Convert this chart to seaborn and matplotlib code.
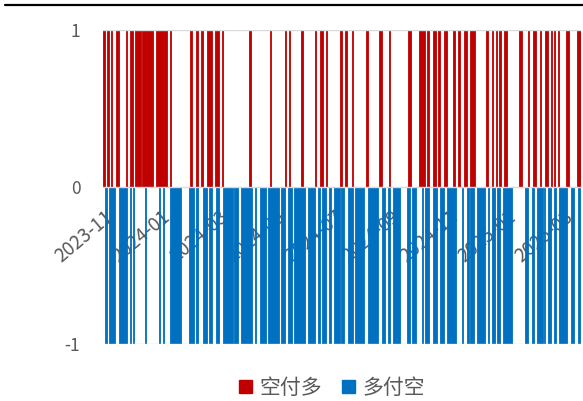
import numpy as np
import pandas as pd
import matplotlib
matplotlib.use("Agg")
import matplotlib.pyplot as plt
import seaborn as sns
from matplotlib.lines import Line2D
from matplotlib.patches import Patch

# trading days on the x axis (category index), labels every 42 days
n_days = 349
tick_pos = [0, 42, 84, 126, 168, 210, 252, 294, 336]
tick_labels = ['2023-11', '2024-01', '2024-03', '2024-05', '2024-07',
               '2024-09', '2024-11', '2025-01', '2025-03']

series_names = ['空付多', '多付空']
colors = ['#C00000', '#0070C0']

# days where 空付多 = 1
red_days = [0, 1, 3, 4, 6, 10, 11, 17, 20, 21, 24, 25, 26, 27,
            29, 30, 31, 32, 33, 34, 35, 36, 39, 40, 41, 42, 43, 44, 45, 46, 49,
            64, 68, 69, 72, 76, 77, 78, 79, 82, 83, 84, 87, 107, 122, 133, 136, 145,
            155, 159, 160, 163, 173, 174, 177, 182, 192, 193, 202, 203, 209,
            223, 224, 231, 232, 233, 234, 237, 241, 242, 245, 249, 250, 256, 259, 260,
            264, 265, 268, 269, 270, 271, 280, 284, 287, 289, 290, 293, 294,
            304, 305, 310, 314, 315, 319, 323, 324, 327, 329, 332, 338, 339,
            346, 347, 348]

# days where 多付空 = -1
blue_days = [2, 5, 6, 7, 8, 12, 13, 14, 15, 16, 17, 20, 22, 31, 41, 44,
             49, 50, 51, 52, 53, 54, 55, 56, 63, 64, 65, 66, 68, 69, 73, 74, 75, 78, 79,
             83, 84, 88, 89, 90, 91, 92, 93, 94, 96, 97, 98,
             101, 102, 103, 104, 105, 106, 107, 108, 111, 115, 116, 117, 118,
             121, 122, 123, 124, 125, 126, 127, 128, 130, 131, 132, 135, 136, 137,
             140, 141, 142, 143, 144, 145, 146, 147, 150, 151, 152, 153, 154, 157, 158,
             160, 161, 162, 165, 166, 169, 170, 171, 172, 174, 175, 179, 180, 181, 182,
             184, 185, 186, 187, 188, 189, 190, 194, 195, 196, 197, 198, 199, 200,
             204, 205, 208, 209, 212, 213, 214, 215, 216, 222, 223, 226, 227, 228,
             233, 235, 236, 237, 241, 242, 243, 246, 247, 248,
             251, 252, 253, 254, 255, 256, 257, 262, 266, 268, 269, 270,
             273, 274, 275, 276, 277, 278, 281, 284, 285, 288, 289,
             292, 293, 294, 295, 296, 297, 298, 308, 309, 313, 314, 317, 318, 319, 320,
             322, 325, 326, 329, 330, 333, 334, 335, 336, 337, 338, 342, 343, 347]

df = pd.DataFrame({
    'day': red_days + blue_days,
    'value': [1] * len(red_days) + [-1] * len(blue_days),
    'series': [series_names[0]] * len(red_days) + [series_names[1]] * len(blue_days),
})

sns.set_theme(style='white')
plt.rcParams['font.family'] = ['Noto Sans CJK SC', 'DejaVu Sans']
plt.rcParams['axes.unicode_minus'] = False

fig = plt.figure(figsize=(5.83, 4.01), dpi=100)
ax = fig.add_axes([102.5 / 583, 1 - 344 / 401, (581 - 102.5) / 583, 314 / 401])

sns.barplot(data=df, x='day', y='value', hue='series', hue_order=series_names,
            palette=dict(zip(series_names, colors)), native_scale=True,
            dodge=False, width=1.0, saturation=1, errorbar=None,
            linewidth=0, legend=False, ax=ax)
for p in ax.patches:
    p.set_edgecolor(p.get_facecolor())
    p.set_linewidth(0.6)

# axis line at zero (set before the tick labels, it resets them)
for s in ['top', 'right', 'left']:
    ax.spines[s].set_visible(False)
ax.spines['bottom'].set_position(('data', 0))
ax.spines['bottom'].set_color('#d9d9d9')
ax.spines['bottom'].set_linewidth(1)
ax.spines['bottom'].set_zorder(3)
for yv in [1, -1]:
    ax.axhline(yv, color='#d9d9d9', lw=1, zorder=3)

ax.set_xlim(-0.5, n_days - 0.5)
ax.set_ylim(-1, 1)
ax.set_yticks([-1, 0, 1])
ax.set_yticklabels(['-1', '0', '1'])
ax.set_xticks(tick_pos)
ax.set_xticklabels(tick_labels)
ax.set_xlabel('')
ax.set_ylabel('')

ax.tick_params(axis='y', length=0, pad=16, labelsize=12.5, labelcolor='#595959')
ax.tick_params(axis='x', length=0, pad=14, labelsize=13.5, labelcolor='#595959',
               labelrotation=40)
plt.setp(ax.get_xticklabels(), ha='right', rotation_mode='anchor')

handles = [Patch(facecolor=c, edgecolor=c) for c in colors]
fig.legend(handles, series_names, loc='center', bbox_to_anchor=(332 / 583, 1 - 388 / 401),
           ncol=2, frameon=False, fontsize=15, handlelength=0.6, handleheight=0.6,
           handletextpad=0.35, columnspacing=1.0, labelcolor='#595959')

fig.add_artist(Line2D([5 / 583, 1], [1 - 4.5 / 401, 1 - 4.5 / 401],
                      transform=fig.transFigure, color='black', lw=1.6))

fig.savefig('out.png', dpi=100)
